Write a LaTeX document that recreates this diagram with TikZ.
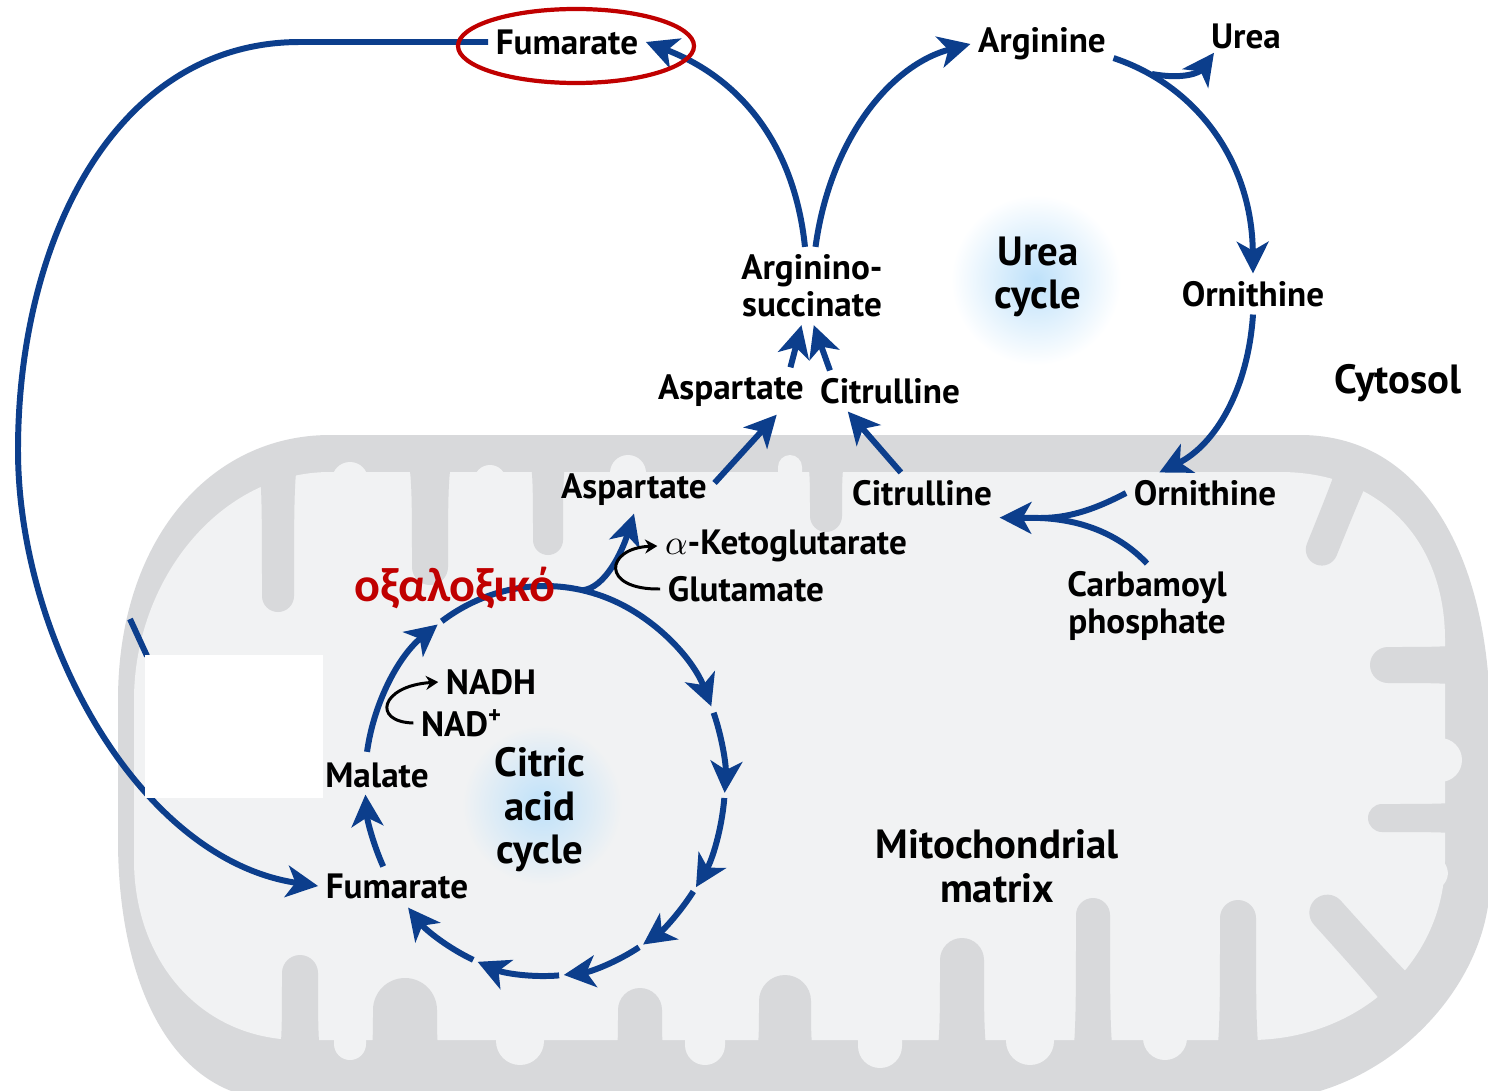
\documentclass[tikz,border=0pt]{standalone}
\usepackage{fontspec}
\setmainfont{PT Sans}
\newfontfamily\greekfont{Carlito}[Script=Greek]
\usetikzlibrary{arrows.meta}
\pgfdeclarelayer{cell}
\pgfdeclarelayer{paths}
\pgfsetlayers{cell,paths,main}
\definecolor{flowblue}{RGB}{12,62,140}
\definecolor{membrane}{RGB}{216,217,219}
\definecolor{matrixgray}{RGB}{241,242,243}
\definecolor{glowblue}{RGB}{190,225,250}
\definecolor{oxred}{RGB}{192,0,0}
% tongue shaped fold: length / half width at the tip
\newcommand\tonguepath[2]{(-1.5*#2,0) .. controls (-#2,0) and (-#2,0.3*#1) .. (-#2,#1)
  arc [start angle=180, end angle=0, radius=#2] .. controls (#2,0.3*#1) and (#2,0) .. (1.5*#2,0) -- cycle}
\tikzset{
  met/.style={font=\fontsize{10}{10.6}\selectfont\bfseries, inner sep=2pt, align=center},
  big/.style={font=\fontsize{11.6}{12.4}\selectfont\bfseries, inner sep=2pt, align=center},
  flow/.style={draw=flowblue, line width=1.7pt, -{Stealth[length=9pt,width=9pt,inset=2.5pt]}},
  flowline/.style={draw=flowblue, line width=1.7pt},
  side/.style={draw=black, line width=0.85pt, -{Stealth[length=3.5pt,width=4pt]}},
  pics/crista/.style args={#1/#2}{code={\fill[membrane] \tonguepath{#1}{#2};}},
  pics/bulge/.style args={#1/#2}{code={\fill[matrixgray] \tonguepath{#1}{#2};}},
}
\begin{document}
\begin{tikzpicture}[x=0.01cm, y=-0.01cm]
\useasboundingbox (0,0) rectangle (1488,1091);
\begin{pgfonlayer}{cell}
  \fill[white] (0,0) rectangle (1488,1091);
  % mitochondrion: outer membrane, matrix, folds
  \fill[membrane] (330,435) -- (1300,435) .. controls (1430,435) and (1490,570) .. (1490,720) -- (1490,880)
    .. controls (1490,990) and (1380,1100) .. (1260,1100) -- (280,1100) .. controls (170,1100) and (118,980) .. (118,840)
    -- (118,700) .. controls (118,540) and (210,435) .. (330,435) -- cycle;
  \fill[matrixgray] (330,472) -- (1280,472) .. controls (1380,472) and (1445,540) .. (1445,640) -- (1445,860)
    .. controls (1445,960) and (1360,1040) .. (1250,1040) -- (300,1040) .. controls (200,1040) and (134,960) .. (134,860)
    -- (134,700) .. controls (134,580) and (220,472) .. (330,472) -- cycle;
  \foreach \px/\py/\rot/\len/\hw in {350/490/180/10/18, 490/490/180/9/16, 628/490/180/17/18, 790/490/180/23/12,
      1385/600/143/35/15, 1420/760/90/20/22, 1405/860/63/29/17,
      350/1020/0/24/16, 520/1020/0/21/24, 705/1020/0/25/20, 880/1020/0/26/22, 1030/1020/0/21/24, 1165/1020/0/18/22}
    \pic[rotate=\rot] at (\px,\py) {bulge=\len/\hw};
  \foreach \px/\py/\rot/\len/\hw in {278/455/0/141/16, 430/455/0/112/18, 548/455/0/85/15, 826/455/0/61/16,
      1360/455/-22/102/16, 1470/665/-90/82/18, 1470/818/-90/88/14, 1415/1010/-138/131/18,
      1238/1065/180/147/18, 1093/1065/180/150/17, 962/1065/180/105/22, 785/1065/180/64/26,
      640/1065/180/55/22, 405/1065/180/55/32, 300/1065/180/92/18}
    \pic[rotate=\rot] at (\px,\py) {crista=\len/\hw};
  \shade[inner color=glowblue, outer color=white] (1036,280) circle [radius=85];
  \shade[inner color=glowblue, outer color=matrixgray] (542,805) circle [radius=80];
\end{pgfonlayer}

\node[met] (fumTop) at (567,42) {Fumarate};
\node[met] (argsucc) at (812,286) {Arginino-\\succinate};
\node[met] (arg) at (1042,44) {Arginine};
\node[met] (urea) at (1246,36) {Urea};
\node[met] (ornC) at (1253,294) {Ornithine};
\node[big] (cytosol) at (1398,383) {Cytosol};
\node[big] (ureaCycle) at (1038,277) {Urea\\cycle};
\node[met] (aspC) at (731,391) {Aspartate};
\node[met] (citC) at (890,391) {Citrulline};
\node[met] (aspM) at (634,490) {Aspartate};
\node[met] (citM) at (922,493) {Citrulline};
\node[met] (ornM) at (1205,493) {Ornithine};
\node[met] (carb) at (1147,606) {Carbamoyl\\phosphate};
\node[met] (akg) at (786,546) {$\alpha$-Ketoglutarate};
\node[met] (glu) at (746,589) {Glutamate};
\node[font=\greekfont\fontsize{13.7}{14}\selectfont\bfseries, text=oxred, inner sep=2pt] (oxa) at (455,588) {οξαλοξικό};
\node[met] (nadh) at (491,682) {NADH};
\node[met] (nad) at (462,723) {NAD\textsuperscript{+}};
\node[met] (malate) at (377,775) {Malate};
\node[met] (fumM) at (397,886) {Fumarate};
\node[big] (citric) at (540,810) {Citric\\acid\\cycle};
\node[big] (matrix) at (997,866) {Mitochondrial\\matrix};
\coordinate (krebs) at (545,781);
\coordinate (ureaFork) at (1152,74);
\coordinate (cpFork) at (1040,518);

\draw[oxred, line width=1.2pt] (fumTop.center) ++(9,4) ellipse [x radius=118, y radius=37];

\begin{pgfonlayer}{paths}
  % urea cycle
  \draw[flow] ([xshift=-2pt]argsucc.north) .. controls (795,150) and (745,80) .. (fumTop.east);
  \draw[flow] ([xshift=1pt]argsucc.north) .. controls (830,140) and (890,65) .. (arg.west);
  \draw[flow] ([yshift=-4pt]arg.east) .. controls (1195,85) and (1252,160) .. (ornC.north);
  \draw[flow] (ureaFork) .. controls (1185,80) and (1200,72) .. ([xshift=3pt,yshift=1pt]urea.south west);
  \draw[flow] (ornC.south) .. controls (1248,390) and (1215,445) .. ([xshift=-13pt]ornM.north);
  \draw[flow] (ornM.west) .. controls (1090,512) and (1065,518) .. (cpFork) -- ([yshift=-7pt]citM.east);
  \draw[flowline] (carb.north) .. controls (1125,540) and (1090,520) .. (cpFork);
  \draw[flow] ([xshift=-6pt]citM.north) -- ([xshift=-12pt]citC.south);
  \draw[flow] ([yshift=2pt]aspM.east) -- ([xshift=13pt]aspC.south);
  \draw[flow] ([xshift=-6pt]aspC.north east) -- ([xshift=-3pt]argsucc.south);
  \draw[flow] ([xshift=5pt]citC.north west) -- ([xshift=0.5pt]argsucc.south);
  % fumarate back into the matrix
  \draw[flow] (fumTop.west) -- (300,42) .. controls (115,42) and (18,240) .. (18,450)
    .. controls (18,640) and (140,860) .. (fumM.west);
  \draw[flowline] (130,619) -- (147,656);
  \fill[white] (145,655) rectangle (323,798);
  % citric acid cycle
  \foreach \a/\b in {154/176, 188.6/233.4, 235/337.5, 339.5/363.5, 365/393, 394.5/417, 418.5/444, 445.5/472, 473.5/499.5}
    \draw[flow] (krebs) ++(\a:180 and 195) arc [start angle=\a, end angle=\b, x radius=180, y radius=195];
  \draw[flow] (krebs) ++(-78:180 and 195) .. controls (605,588) and (622,552) .. (aspM.south);
  \draw[side] (glu.west) .. controls (600,590) and (605,548) .. (akg.west);
  \draw[side] (nad.west) .. controls (372,722) and (380,686) .. (nadh.west);
\end{pgfonlayer}
\end{tikzpicture}
\end{document}
